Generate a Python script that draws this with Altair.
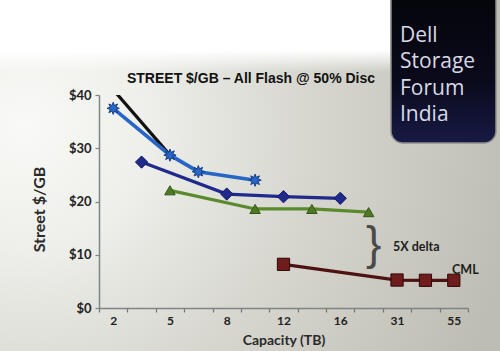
import math
import json
import altair as alt
import pandas as pd

# ---------------- data ----------------
capacity_labels = ["2", "", "5", "", "8", "", "12", "", "16", "", "31", "", "55"]

black_x = [0, 2]
black_y = [41.0, 28.7]
star_x = [0, 2, 3, 5]
star_y = [37.5, 28.7, 25.6, 24.0]
diamond_x = [1, 4, 6, 8]
diamond_y = [27.4, 21.4, 20.9, 20.6]
green_x = [2, 5, 7, 9]
green_y = [22.1, 18.6, 18.6, 18.0]
red_x = [6, 10, 11, 12]
red_y = [8.2, 5.25, 5.2, 5.2]

title_text = "STREET $/GB \u2013 All Flash @ 50% Disc"
banner_text = "Dell\nStorage\nForum\nIndia"
note_x = [9.18, 9.86, 11.94]
note_y = [11.3, 11.45, 7.1]
note_text = ["}", "5X delta", "CML"]

# ---------------- table ----------------
rows = []
for name, xs, ys in [("black", black_x, black_y), ("star", star_x, star_y),
                     ("diamond", diamond_x, diamond_y), ("green", green_x, green_y),
                     ("red", red_x, red_y)]:
    for xv, yv in zip(xs, ys):
        rows.append({"series": name, "x": xv, "y": yv, "t": ""})
for xv, yv, tv in zip(note_x, note_y, note_text):
    rows.append({"series": "note", "x": xv, "y": yv, "t": tv})
df = pd.DataFrame(rows)

W, H = 369, 213
PL, PT, PR, PB = 99, 95, 32, 43

n = len(capacity_labels)
tick_vals = sorted([i - 0.5 for i in range(n + 1)] + [i for i in range(0, n, 2)])
label_expr = ("datum.value % 1 == 0 ? " + json.dumps(capacity_labels).replace('"', "'")
              + "[datum.value] : ''")

xscale = alt.Scale(domain=[-0.5, n - 0.5], nice=False, zero=False)
yscale = alt.Scale(domain=[0, 40], nice=False)

X = alt.X("x:Q", scale=xscale, axis=alt.Axis(
    values=tick_vals, labelExpr=label_expr, labelOverlap=False, grid=False, zindex=1,
    title="Capacity (TB)", titleFont="Lato", titleFontSize=14, titleFontWeight="bold",
    titleColor="#2a2a2a", titleY=32, titleBaseline="middle",
    labelFont="Lato", labelFontSize=12, labelFontWeight="bold", labelColor="#222222",
    labelPadding=3, tickSize=4, tickWidth=1.2,
    tickColor={"condition": {"test": "datum.value % 1 != 0", "value": "#6f7474"}, "value": "transparent"},
    domainColor="#7f8585", domainWidth=1.5))
Y = alt.Y("y:Q", scale=yscale, axis=alt.Axis(
    values=[0, 10, 20, 30, 40], labelExpr="'$' + datum.value", grid=False, zindex=1,
    title="Street $/GB", titleFont="Lato", titleFontSize=16, titleFontWeight="bold",
    titleColor="#2a2a2a", titleX=-60, titleY=114, titleAngle=-90,
    titleAlign="center", titleBaseline="middle",
    labelFont="Lato", labelFontSize=13, labelFontWeight="bold", labelColor="#222222",
    labelPadding=4, tickSize=4, tickColor="#7f8585", tickWidth=1.2,
    domainColor="#7f8585", domainWidth=1.5))

one = pd.DataFrame({"a": [0]})

# background photo tone
bg = alt.Chart(one).mark_rect(
    fill=alt.RadialGradient(gradient="radial", x1=0.05, y1=0.4, r1=0, x2=0.05, y2=0.4, r2=1.0,
                            stops=[alt.GradientStop(color="#f9f9f7", offset=0),
                                   alt.GradientStop(color="#eeeeea", offset=0.25),
                                   alt.GradientStop(color="#d8d8d1", offset=0.55),
                                   alt.GradientStop(color="#bdbdb3", offset=1)])
).encode(x=alt.value(-PL), x2=alt.value(500 - PL), y=alt.value(-PT), y2=alt.value(351 - PT))

white_top = alt.Chart(one).mark_rect(
    fill=alt.LinearGradient(gradient="linear", x1=0, y1=0, x2=0, y2=1,
                            stops=[alt.GradientStop(color="#ffffff", offset=0),
                                   alt.GradientStop(color="#ffffff", offset=0.7),
                                   alt.GradientStop(color="rgba(255,255,255,0)", offset=1)])
).encode(x=alt.value(-PL), x2=alt.value(390 - PL), y=alt.value(-PT), y2=alt.value(72 - PT))

banner = alt.Chart(one).mark_rect(
    cornerRadius=12, stroke="#8e8e8e", strokeWidth=1.5,
    fill=alt.LinearGradient(gradient="linear", x1=0, y1=0, x2=0, y2=1,
                            stops=[alt.GradientStop(color="#040409", offset=0),
                                   alt.GradientStop(color="#0a0a1c", offset=0.6),
                                   alt.GradientStop(color="#171a44", offset=1)])
).encode(x=alt.value(391 - PL), x2=alt.value(496 - PL), y=alt.value(-12 - PT), y2=alt.value(143 - PT))

banner_txt = alt.Chart(one).mark_text(
    align="left", baseline="alphabetic", lineBreak="\n", lineHeight=26.3,
    font="Open Sans", fontSize=21, color="#d8dae6"
).encode(x=alt.value(400 - PL), y=alt.value(42 - PT), text=alt.value(banner_text))

title = alt.Chart(one).mark_text(
    align="center", baseline="alphabetic", font="Liberation Sans", fontSize=14,
    fontWeight="bold", color="#111111"
).encode(x=alt.value(251 - PL), y=alt.value(83 - PT), text=alt.value(title_text))

base = alt.Chart(df).encode(x=X, y=Y)

def sel(name):
    return base.transform_filter(alt.datum.series == name)

star_path = "M" + "L".join(
    f"{(1 if k % 2 == 0 else 0.5) * math.sin(math.pi * k / 8):.3f},"
    f"{-(1 if k % 2 == 0 else 0.5) * math.cos(math.pi * k / 8):.3f}" for k in range(16)) + "Z"

black_line = sel("black").mark_line(color="#111111", strokeWidth=3.2, clip=True)
star_line = sel("star").mark_line(color="#2766c6", strokeWidth=3.6)
star_pts = sel("star").mark_point(shape=star_path, size=150, filled=True, opacity=1,
                                  fill="#2766c6", stroke="#173d85", strokeWidth=1)
diam_line = sel("diamond").mark_line(color="#1f2a8c", strokeWidth=3.2)
diam_pts = sel("diamond").mark_point(shape="diamond", size=150, filled=True, opacity=1,
                                     fill="#1f2a8c", stroke="#121a60", strokeWidth=1)
green_line = sel("green").mark_line(color="#5b8a2c", strokeWidth=3.2)
green_pts = sel("green").mark_point(shape="triangle-up", size=110, filled=True, opacity=1,
                                    fill="#4d7a22", stroke="#35561a", strokeWidth=1)
red_line = sel("red").mark_line(color="#4e1212", strokeWidth=3.2)
red_pts = sel("red").mark_point(shape="square", size=150, filled=True, opacity=1,
                                fill="#6e1c1c", stroke="#300808", strokeWidth=1)

brace = base.transform_filter(alt.datum.t == "}").mark_text(
    font="Liberation Sans", fontSize=46, align="center", baseline="middle", color="#4a4a4a", dy=-3
).encode(text="t:N")
notes = base.transform_filter((alt.datum.series == "note") & (alt.datum.t != "}")).mark_text(
    font="Lato", fontSize=12.5, fontWeight="bold", align="left", baseline="middle", color="#1e1e1e"
).encode(text="t:N")

chart = alt.layer(
    bg, white_top, banner, banner_txt, title,
    black_line, star_line, diam_line, green_line, red_line,
    star_pts, diam_pts, green_pts, red_pts, brace, notes
).properties(
    width=W, height=H,
    autosize=alt.AutoSizeParams(type="none"),
    padding={"left": PL, "top": PT, "right": PR, "bottom": PB},
    background="#dcdcd5"
).configure_view(stroke=None)

chart.save("out.html", embed_options={"renderer": "svg", "actions": False})
